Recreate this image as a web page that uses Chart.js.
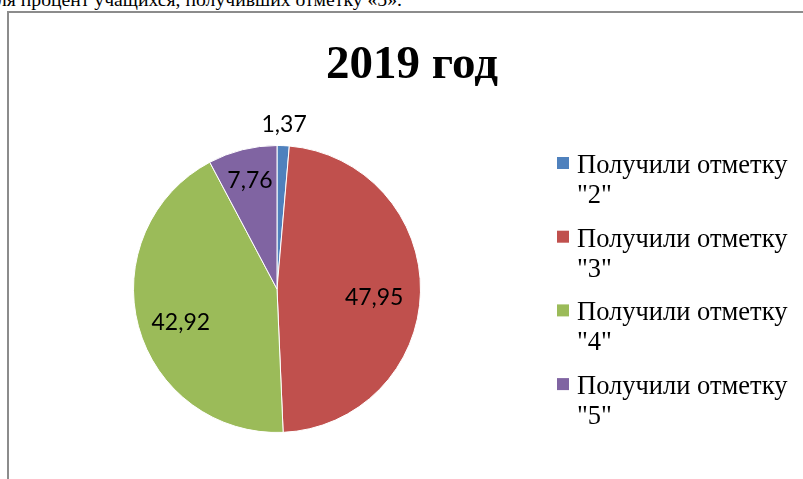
<!DOCTYPE html>
<html>
<head>
<meta charset="utf-8">
<script src="https://cdn.jsdelivr.net/npm/chart.js@4"></script>
<style>
body { margin: 0; background: #fff; overflow: hidden; }
#wrap { position: relative; width: 803px; height: 479px; overflow: hidden; }
#frame { position: absolute; left: 7px; top: 11px; width: 900px; height: 600px;
  border-left: 2px solid #8c8c8c; border-top: 2px solid #8c8c8c; }
#cut { position: absolute; left: -3px; top: -12px; font: 19.7px "Liberation Serif"; white-space: nowrap; color: #000; }
canvas { position: absolute; left: 0; top: 0; }
</style>
</head>
<body>
<div id="wrap">
  <div id="cut">ля процент учащихся, получивших отметку «5».</div>
  <div id="frame"></div>
  <canvas id="pie" width="803" height="479"></canvas>
</div>
<script>
// data
var title = '2019 год';
var labels = ['Получили отметку "2"', 'Получили отметку "3"', 'Получили отметку "4"', 'Получили отметку "5"'];
var values = [1.37, 47.95, 42.92, 7.76];
var colors = ['#4F81BD', '#C0504D', '#9BBB59', '#8064A2'];

// where each value label sits: fraction of radius and angle shift (deg)
var labelPlace = [[1.15, 0], [0.68, 4], [0.71, -4], [0.78, 0]];

var drawExtras = {
  id: 'drawExtras',
  afterDraw: function(chart) {
    var ctx = chart.ctx;
    ctx.save();

    // title
    ctx.fillStyle = '#000';
    ctx.font = 'bold 47px "Liberation Serif"';
    ctx.textAlign = 'center';
    ctx.textBaseline = 'alphabetic';
    ctx.fillText(title, 412, 78);

    // value labels
    var arcs = chart.getDatasetMeta(0).data;
    ctx.font = '23px Lato';
    ctx.textBaseline = 'middle';
    arcs.forEach(function(arc, i) {
      var mid = (arc.startAngle + arc.endAngle) / 2 + labelPlace[i][1] * Math.PI / 180;
      var r = arc.outerRadius * labelPlace[i][0];
      var txt = values[i].toFixed(2).replace('.', ',');
      ctx.fillText(txt, arc.x + Math.cos(mid) * r, arc.y + Math.sin(mid) * r);
    });

    // legend
    ctx.textAlign = 'left';
    ctx.textBaseline = 'alphabetic';
    ctx.font = '26.5px "Liberation Serif"';
    labels.forEach(function(lab, i) {
      var y = 173 + i * 73.7;
      var parts = lab.split(' "');
      ctx.fillStyle = colors[i];
      ctx.fillRect(557, y - 16, 12, 12);
      ctx.fillStyle = '#000';
      ctx.fillText(parts[0], 577, y);
      ctx.fillText('"' + parts[1], 577, y + 30);
    });
    ctx.restore();
  }
};

new Chart(document.getElementById('pie'), {
  type: 'pie',
  data: {
    labels: labels,
    datasets: [{
      data: values,
      backgroundColor: colors,
      borderColor: '#fff',
      borderWidth: 1
    }]
  },
  options: {
    responsive: false,
    animation: false,
    layout: { padding: { left: 133, right: 382, top: 145, bottom: 46 } },
    plugins: {
      legend: { display: false },
      tooltip: { enabled: false },
      title: { display: false }
    }
  },
  plugins: [drawExtras]
});
</script>
</body>
</html>
